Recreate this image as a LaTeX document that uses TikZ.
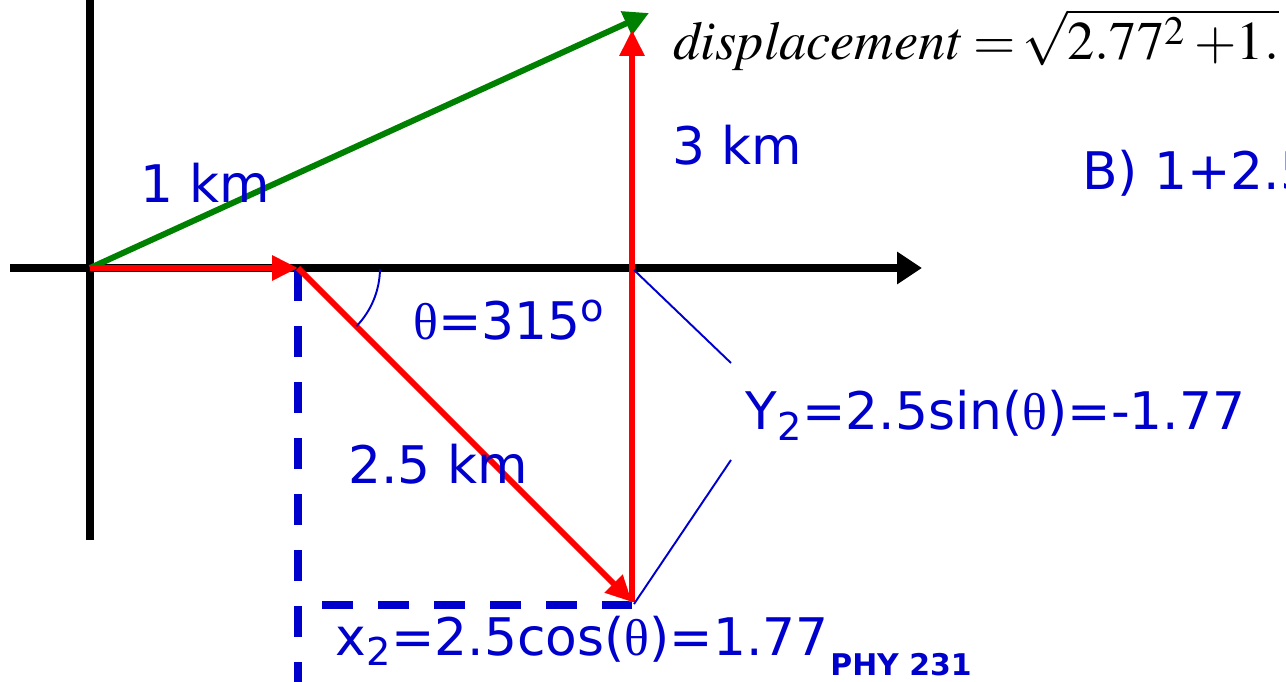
\documentclass[tikz,border=0pt]{standalone}
\usepackage{mathptmx}
\usepackage{fontspec}
\usepackage{xcolor}
\newfontfamily\handfont{DejaVu Sans}
\newfontfamily\greekfont{Liberation Serif}
\usetikzlibrary{arrows.meta}
\definecolor{penblue}{RGB}{0,0,204}
\definecolor{vecred}{RGB}{255,0,0}
\definecolor{vecgreen}{RGB}{0,128,0}

\begin{document}
\begin{tikzpicture}[
  x=0.02cm, y=-0.02cm,
  axis/.style={line width=4.5pt, black},
  redvec/.style={line width=3.4pt, vecred, -{Triangle[length=0.52cm, width=0.48cm]}},
  greenvec/.style={line width=3.4pt, vecgreen, -{Triangle[length=0.5cm, width=0.5cm]}},
  comp/.style={line width=4pt, penblue, dash pattern=on 0.62cm off 0.5cm},
  leader/.style={line width=1.1pt, penblue},
  lbl/.style={anchor=base west, inner sep=0pt, text=penblue,
              font=\handfont\fontsize{29.5}{34}\selectfont}
]
  \useasboundingbox (0,0) rectangle (1286,682);

  % points of the walk
  \coordinate (O) at (90,268);
  \coordinate (A) at (298,268);
  \coordinate (B) at (632,602);
  \coordinate (C) at (632,30);
  \coordinate (G) at (649,13);

  % axes
  \coordinate (xl) at (10,268);
  \coordinate (xr) at (922,268);
  \coordinate (yt) at (90,-10);
  \coordinate (yb) at (90,540);
  \draw[axis, -{Triangle[length=0.5cm, width=0.62cm]}] (xl) -- (xr);
  \draw[axis] (yt) -- (yb);

  % components
  \coordinate (dt) at (298,270);
  \coordinate (db) at (298,700);
  \coordinate (hl) at (322,605);
  \coordinate (hr) at (632,605);
  \draw[comp] (dt) -- (db);
  \draw[comp] (hl) -- (hr);

  % vectors
  \draw[greenvec] (O) -- (G);
  \draw[redvec] (O) -- (A);
  \draw[redvec] (A) -- (B);
  \draw[redvec] (B) -- (C);

  % angle and leaders
  \draw[leader] ([shift={(1:82)}]A) arc[start angle=1, end angle=44, radius=84];
  \coordinate (l1) at (634,270);
  \coordinate (l2) at (731,363);
  \coordinate (l3) at (731,460);
  \coordinate (l4) at (634,604);
  \draw[leader] (l1) -- (l2);
  \draw[leader] (l3) -- (l4);

  % labels
  \node[lbl] (onekm) at (140,203) {1 km};
  \node[lbl] (threekm) at (672,165) {3 km};
  \node[lbl] (twokm) at (348,483) {2.5 km};
  \node[lbl] (ang) at (413,340) {{\greekfont θ}=315\textsuperscript{o}};
  \node[lbl] (ycomp) at (745,430) {Y\textsubscript{2}=2.5sin({\greekfont θ})=-1.77};
  \node[lbl] (xcomp) at (335,655) {x\textsubscript{2}=2.5cos({\greekfont θ})=1.77};
  \node[lbl, font=\handfont\bfseries\fontsize{17}{20}\selectfont] (course) at (830,675) {PHY 231};
  \node[lbl] (partb) at (1082,190) {B) 1+2.5};
  \node[anchor=base west, inner sep=0pt, font=\fontsize{31}{36}\selectfont] (disp) at (673,60)
    {$\mathit{displacement}\mskip4mu{=}\mskip2mu\sqrt{2.77^{2}\mskip3mu{+}1.}$};
\end{tikzpicture}
\end{document}
